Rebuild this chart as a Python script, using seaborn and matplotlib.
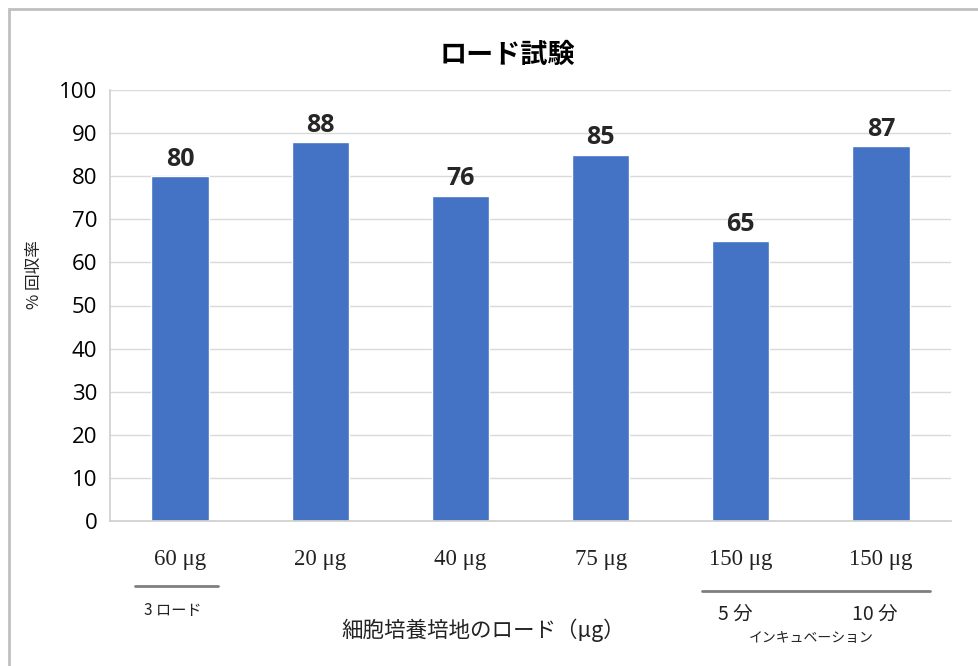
import matplotlib
matplotlib.use('Agg')
import matplotlib.pyplot as plt
import matplotlib.transforms as mtransforms
from matplotlib.patches import Rectangle
import seaborn as sns
import pandas as pd

# data
loads = ['60 μg', '20 μg', '40 μg', '75 μg', '150 μg', '150 μg ']
recovery = [80, 88, 75.5, 85, 65, 87]
bar_text = ['80', '88', '76', '85', '65', '87']

df = pd.DataFrame({'load': loads, 'recovery': recovery})

sns.set_theme(style='white')
plt.rcParams['font.family'] = ['Noto Sans CJK JP', 'DejaVu Sans']

fig = plt.figure(figsize=(9.79, 6.66), dpi=100)
ax = fig.add_axes([110 / 979, 1 - 521 / 666, (951 - 110) / 979, (521 - 90) / 666])

sns.barplot(data=df, x='load', y='recovery', color='#4472C4', width=0.41,
            saturation=1, ax=ax)

ax.set_ylim(0, 100)
ax.set_yticks(range(0, 101, 10))
ax.yaxis.grid(True, color='#d9d9d9', linewidth=1)
ax.set_axisbelow(True)
for side in ['top', 'right']:
    ax.spines[side].set_visible(False)
ax.spines['left'].set_color('#d0d0d0')
ax.spines['bottom'].set_color('#d0d0d0')
ax.tick_params(axis='y', length=0, pad=9, labelsize=16, colors='#000000')
ax.tick_params(axis='x', length=0, pad=20, labelsize=16.5, colors='#222222')
for lab in ax.get_yticklabels():
    lab.set_fontfamily(['Open Sans', 'DejaVu Sans'])
ax.set_xticks(range(len(loads)))
ax.set_xticklabels([l.strip() for l in loads], fontfamily=['Liberation Serif', 'DejaVu Serif'])

ax.bar_label(ax.containers[0], labels=bar_text, padding=3, fontsize=18,
             fontweight='bold', fontfamily=['Open Sans', 'DejaVu Sans'])

ax.set_xlabel('')
ax.set_ylabel('')

# group brackets under the tick labels
trans = mtransforms.blended_transform_factory(ax.transData, ax.transAxes)
ax.plot([-0.32, 0.27], [-0.151, -0.151], transform=trans, color='#7f7f7f',
        linewidth=2, clip_on=False)
ax.plot([3.72, 5.35], [-0.162, -0.162], transform=trans, color='#7f7f7f',
        linewidth=2, clip_on=False)
ax.set_xlim(-0.5, len(loads) - 0.5)
ax.text(-0.05, -0.207, '3 ロード', transform=trans, ha='center', va='center',
        fontsize=11, color='#222222')
ax.text(3.96, -0.216, '5 分', transform=trans, ha='center', va='center',
        fontsize=14, color='#222222')
ax.text(4.96, -0.216, '10 分', transform=trans, ha='center', va='center',
        fontsize=14, color='#222222')
ax.text(4.5, -0.271, 'インキュベーション', transform=trans, ha='center', va='center',
        fontsize=10, color='#222222')

fig.text(483 / 979, 1 - 630 / 666, '細胞培養培地のロード（μg）', ha='center',
         va='center', fontsize=15.5, color='#222222')
fig.text(35 / 979, 1 - 275 / 666, '% 回収率', rotation=90, ha='center',
         va='center', fontsize=12, color='#222222')
fig.text(507 / 979, 1 - 55 / 666, 'ロード試験', ha='center', va='center',
         fontsize=19.5, fontweight='bold', color='#000000')

# outer frame
fig.patches.append(Rectangle((9 / 979, -0.05), 1.1, 1 - 9 / 666 + 0.05,
                             transform=fig.transFigure, fill=False,
                             edgecolor='#c0c0c0', linewidth=2))

fig.savefig('out.png', dpi=100, facecolor='white')
